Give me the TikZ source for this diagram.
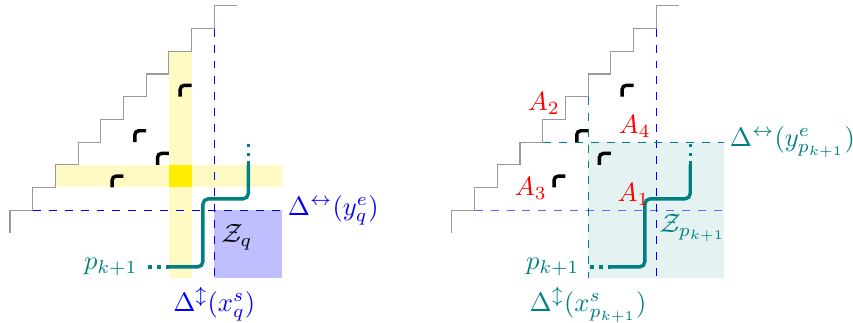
\documentclass[tikz,border=0pt]{standalone}
\usepackage{amsmath,amssymb}
\usetikzlibrary{calc}
\definecolor{PathColor}{HTML}{008080}
\definecolor{BandColor}{HTML}{FFF9C4}
\definecolor{CrossColor}{HTML}{FFEE00}

\begin{document}
\begin{tikzpicture}[scale=0.3,
    stair/.style={gray!80,line width=0.4pt},
    cornermark/.style={black,line width=1.3pt,rounded corners=1.5pt},
    walk/.style={PathColor,line width=1.3pt,rounded corners=2pt},
    walkdots/.style={PathColor,line width=1.3pt,dotted},
    bluedash/.style={blue,dashed},
    tealdash/.style={PathColor,dashed}]
  \useasboundingbox (-0.44,-3.96) rectangle (37.14,10.26);
  % left diagram
  \fill[BandColor](7,-2)rectangle(8,8);
  \fill[BandColor](2,2)rectangle(12,3);
  \fill[CrossColor](7,2)rectangle(8,3);
  \fill[blue!25](9,-2)rectangle(12,1);
  \draw[stair](0,0)\foreach \i in {0,...,9}{--(\i,\i+1)--(\i+1,\i+1)};
  \draw[bluedash](1,1)--(12,1);
  \draw[bluedash](9,9)--(9,-2);
  \foreach \x/\y in {7/6,5/4,6/3,4/2}{
    \draw[cornermark](\x+0.5,\y)|-(\x+1,\y+0.5);}
  \draw[walk](7,-1.5)-|(8.5,1.5)-|(10.5,3);
  \draw[walkdots](6.1,-1.5)--(7,-1.5);
  \draw[walkdots](10.5,3)--(10.5,3.9);
  \node[PathColor,anchor=east](pleft)at(6.03,-1.5){$p_{k+1}$};
  \node(zleft)at(10,-0.2){$\mathcal{Z}_q$};
  \node[blue,anchor=west](yleft)at(11.83,1){$\Delta^{\leftrightarrow}(y^e_q)$};
  \node[blue,anchor=north](xleft)at(9,-2){$\Delta^{\updownarrow}(x^s_q)$};
  % right diagram
  \begin{scope}[shift={(19.47,0)}]
    \fill[PathColor!10](6,-2)rectangle(12,4);
    \draw[stair](0,0)\foreach \i in {0,...,9}{--(\i,\i+1)--(\i+1,\i+1)};
    \draw[bluedash,blue!60](1,1)--(12,1);
    \draw[bluedash](9,9)--(9,-2);
    \draw[tealdash](6,6)--(6,-2);
    \draw[tealdash](4,4)--(12,4);
    \foreach \x/\y in {7/6,5/4,6/3,4/2}{
      \draw[cornermark](\x+0.5,\y)|-(\x+1,\y+0.5);}
    \draw[walk](7,-1.5)-|(8.5,1.5)-|(10.5,3);
    \draw[walkdots](6.1,-1.5)--(7,-1.5);
    \draw[walkdots](10.5,3)--(10.5,3.9);
    \foreach \k/\x/\y in {2/4.05/5.7,4/8.06/4.7,3/3.48/1.98,1/8.0/1.7}{
      \node[red](a\k)at(\x,\y){$A_{\k}$};}
    \node[PathColor,anchor=east](pright)at(6.03,-1.5){$p_{k+1}$};
    \node[PathColor](zright)at(10.6,0.2){$\mathcal{Z}_{p_{k+1}}$};
    \node[PathColor,anchor=west](yright)at(11.83,4){$\Delta^{\leftrightarrow}(y^e_{p_{k+1}})$};
    \node[PathColor,anchor=north](xright)at(6,-2){$\Delta^{\updownarrow}(x^s_{p_{k+1}})$};
  \end{scope}
\end{tikzpicture}
\end{document}
